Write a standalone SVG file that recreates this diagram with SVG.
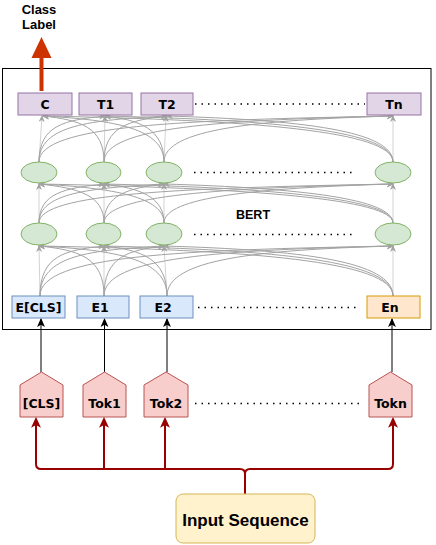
<svg xmlns="http://www.w3.org/2000/svg" width="436" height="545" viewBox="0 0 436 545">
<style>
.t{font-family:"DejaVu Sans",Verdana,sans-serif;font-weight:bold;font-size:12.5px;fill:#000;text-anchor:middle}
.a{font-family:"Liberation Sans",Arial,sans-serif;font-weight:bold;fill:#000;text-anchor:middle}
.top{fill:#e1d5e7;stroke:#9673a6;stroke-width:1}
.ell{fill:#d5e8d4;stroke:#82b366;stroke-width:1}
.emb{fill:#dae8fc;stroke:#6c8ebf;stroke-width:1}
.tok{fill:#f8cecc;stroke:#b85450;stroke-width:1}
.dot{stroke:#000;stroke-width:1.5;stroke-dasharray:1.5 5;fill:none}
.c{fill:none;stroke:#a3a3a3;stroke-width:1;marker-end:url(#ga)}
.v{fill:none;stroke:#d3d3d3;stroke-width:1;marker-end:url(#ga)}
.bk{fill:none;stroke:#000;stroke-width:1;marker-end:url(#ba)}
.rd{fill:none;stroke:#990000;stroke-width:2;marker-end:url(#ra)}
</style>
<defs>
<marker id="ga" markerUnits="userSpaceOnUse" markerWidth="8" markerHeight="8" refX="6" refY="3" orient="auto" viewBox="0 0 8 6">
<path d="M0,0 L7,3 L0,6 L2,3 Z" fill="#a3a3a3"/>
</marker>
<marker id="ba" markerUnits="userSpaceOnUse" markerWidth="9" markerHeight="9" refX="7" refY="3.5" orient="auto" viewBox="0 0 8 7">
<path d="M0,0 L8,3.5 L0,7 L2,3.5 Z" fill="#000"/>
</marker>
<marker id="ra" markerUnits="userSpaceOnUse" markerWidth="11" markerHeight="11" refX="8" refY="4.5" orient="auto" viewBox="0 0 10 9">
<path d="M0,0 L10,4.5 L0,9 L2.5,4.5 Z" fill="#990000"/>
</marker>
</defs>
<rect x="0" y="0" width="436" height="545" fill="#fff"/>

<g id="bert">
<rect x="2.5" y="68.5" width="428.5" height="261" fill="#fff" stroke="#000" stroke-width="1"/>
<text class="a" x="253" y="219" font-size="12.5">BERT</text>
</g>

<g id="class-label">
<text class="a" x="39" y="14" font-size="13">Class</text>
<text class="a" x="39" y="28.5" font-size="13">Label</text>
<line x1="41.5" y1="91" x2="41.5" y2="55" stroke="#cc3300" stroke-width="4"/>
<polygon points="31.5,58 41.5,37 51.5,58" fill="#cc3300"/>
</g>

<g id="connectors">
<!-- layer A -->
<path class="v" d="M40,296 L39,246"/>
<path class="v" d="M104,296 L104,246"/>
<path class="v" d="M167,296 L164,246"/>
<path class="v" d="M393,296 L393,246"/>
<path class="c" d="M40,296 C40,255 66,250 104,246"/>
<path class="c" d="M40,296 C40,255 90,250 164,246"/>
<path class="c" d="M40,296 C40,255 181,250 393,246"/>
<path class="c" d="M104,296 C104,257 78,250 39,246"/>
<path class="c" d="M104,296 C104,257 128,250 164,246"/>
<path class="c" d="M104,296 C104,257 220,250 393,246"/>
<path class="c" d="M167,296 C167,259 116,250 39,246"/>
<path class="c" d="M167,296 C167,259 142,250 104,246"/>
<path class="c" d="M167,296 C167,259 257,250 393,246"/>
<path class="c" d="M393,296 C393,261 251,250 39,246"/>
<path class="c" d="M393,296 C393,261 277,250 104,246"/>
<path class="c" d="M393,296 C393,261 301,250 164,246"/>
<!-- layer B -->
<path class="v" d="M39,223 L39,184"/>
<path class="v" d="M104,223 L104,184"/>
<path class="v" d="M164,223 L164,184"/>
<path class="v" d="M393,223 L393,184"/>
<path class="c" d="M39,223 C39,193 65,188 104,184"/>
<path class="c" d="M39,223 C39,193 89,188 164,184"/>
<path class="c" d="M39,223 C39,193 181,188 393,184"/>
<path class="c" d="M104,223 C104,195 78,188 39,184"/>
<path class="c" d="M104,223 C104,195 128,188 164,184"/>
<path class="c" d="M104,223 C104,195 220,188 393,184"/>
<path class="c" d="M164,223 C164,197 114,188 39,184"/>
<path class="c" d="M164,223 C164,197 140,188 104,184"/>
<path class="c" d="M164,223 C164,197 256,188 393,184"/>
<path class="c" d="M393,223 C393,199 251,188 39,184"/>
<path class="c" d="M393,223 C393,199 277,188 104,184"/>
<path class="c" d="M393,223 C393,199 301,188 164,184"/>
<!-- layer C -->
<path class="v" d="M39,162 L42,116"/>
<path class="v" d="M104,162 L105,116"/>
<path class="v" d="M164,162 L166,116"/>
<path class="v" d="M393,162 L393,116"/>
<path class="c" d="M39,162 C39,125 65,120 105,116"/>
<path class="c" d="M39,162 C39,125 90,120 167,116"/>
<path class="c" d="M39,162 C39,125 181,120 393,116"/>
<path class="c" d="M104,162 C104,127 80,120 43,116"/>
<path class="c" d="M104,162 C104,127 129,120 167,116"/>
<path class="c" d="M104,162 C104,127 220,120 393,116"/>
<path class="c" d="M164,162 C164,129 116,120 43,116"/>
<path class="c" d="M164,162 C164,129 140,120 105,116"/>
<path class="c" d="M164,162 C164,129 256,120 393,116"/>
<path class="c" d="M393,162 C393,131 253,120 43,116"/>
<path class="c" d="M393,162 C393,131 278,120 105,116"/>
<path class="c" d="M393,162 C393,131 303,120 167,116"/>
<!-- token to embedding -->
<path class="bk" d="M41,372 L41,319"/>
<path class="bk" d="M104.5,372 L104.5,319"/>
<path class="bk" d="M167,372 L167,319"/>
<path class="bk" d="M392,372 L392,319"/>
<!-- input sequence to tokens -->
<path class="rd" d="M245,494 L245,474 Q245,469 240,469 L41,469 Q36,469 36,464 L36,419"/>
<path class="rd" d="M245,494 L245,474 Q245,469 250,469 L388,469 Q393,469 393,464 L393,419"/>
<path class="rd" d="M104,469 L104,419"/>
<path class="rd" d="M165,469 L165,419"/>
</g>

<g id="dots">
<line class="dot" x1="195" y1="104" x2="365" y2="104"/>
<line class="dot" x1="194" y1="172.5" x2="354" y2="172.5"/>
<line class="dot" x1="194" y1="234.5" x2="354" y2="234.5"/>
<line class="dot" x1="198" y1="307.5" x2="360" y2="307.5"/>
<line class="dot" x1="195" y1="403.5" x2="364" y2="403.5"/>
</g>

<g id="top-C"><rect class="top" x="18" y="93" width="54" height="22"/><text class="t" x="45" y="108.5">C</text></g>
<g id="top-T1"><rect class="top" x="79" y="93" width="53" height="22"/><text class="t" x="105.5" y="108.5">T1</text></g>
<g id="top-T2"><rect class="top" x="141" y="93" width="52" height="22"/><text class="t" x="167" y="108.5">T2</text></g>
<g id="top-Tn"><rect class="top" x="367" y="93" width="54" height="22"/><text class="t" x="394" y="108.5">Tn</text></g>

<g id="h1-1"><ellipse class="ell" cx="39" cy="172.5" rx="18" ry="10.5"/></g>
<g id="h1-2"><ellipse class="ell" cx="103.5" cy="172.5" rx="17.5" ry="10.5"/></g>
<g id="h1-3"><ellipse class="ell" cx="164" cy="172.5" rx="18" ry="10.5"/></g>
<g id="h1-n"><ellipse class="ell" cx="393" cy="172.5" rx="18" ry="10.5"/></g>

<g id="h2-1"><ellipse class="ell" cx="39" cy="234" rx="18" ry="11"/></g>
<g id="h2-2"><ellipse class="ell" cx="103.5" cy="234" rx="17.5" ry="11"/></g>
<g id="h2-3"><ellipse class="ell" cx="164" cy="234" rx="18" ry="11"/></g>
<g id="h2-n"><ellipse class="ell" cx="393" cy="234" rx="18" ry="11"/></g>

<g id="emb-CLS"><rect class="emb" x="12" y="296" width="53" height="22"/><text class="t" x="38.5" y="311.5">E[CLS]</text></g>
<g id="emb-1"><rect class="emb" x="77" y="296" width="52" height="22"/><text class="t" x="100" y="311.5">E1</text></g>
<g id="emb-2"><rect class="emb" x="140" y="296" width="53" height="22"/><text class="t" x="163" y="311.5">E2</text></g>
<g id="emb-n"><rect x="367" y="296" width="53" height="22" fill="#ffe6cc" stroke="#d79b00" stroke-width="1"/><text class="t" x="390" y="311.5">En</text></g>

<g id="tok-CLS"><path class="tok" d="M20,385 L41.5,372 L63,385 L63,417 L20,417 Z"/><text class="t" x="41.5" y="408">[CLS]</text></g>
<g id="tok-1"><path class="tok" d="M83,385 L104.5,372 L126,385 L126,417 L83,417 Z"/><text class="t" x="104.5" y="408">Tok1</text></g>
<g id="tok-2"><path class="tok" d="M144,385 L166,372 L188,385 L188,417 L144,417 Z"/><text class="t" x="166" y="408">Tok2</text></g>
<g id="tok-n"><path class="tok" d="M369,385 L390.5,372 L412,385 L412,417 L369,417 Z"/><text class="t" x="390.5" y="408">Tokn</text></g>

<g id="input"><rect x="176" y="494" width="139" height="49" rx="7" fill="#fff2cc" stroke="#d6b656" stroke-width="1"/><text class="a" x="245.5" y="526" font-size="17">Input Sequence</text></g>
</svg>
